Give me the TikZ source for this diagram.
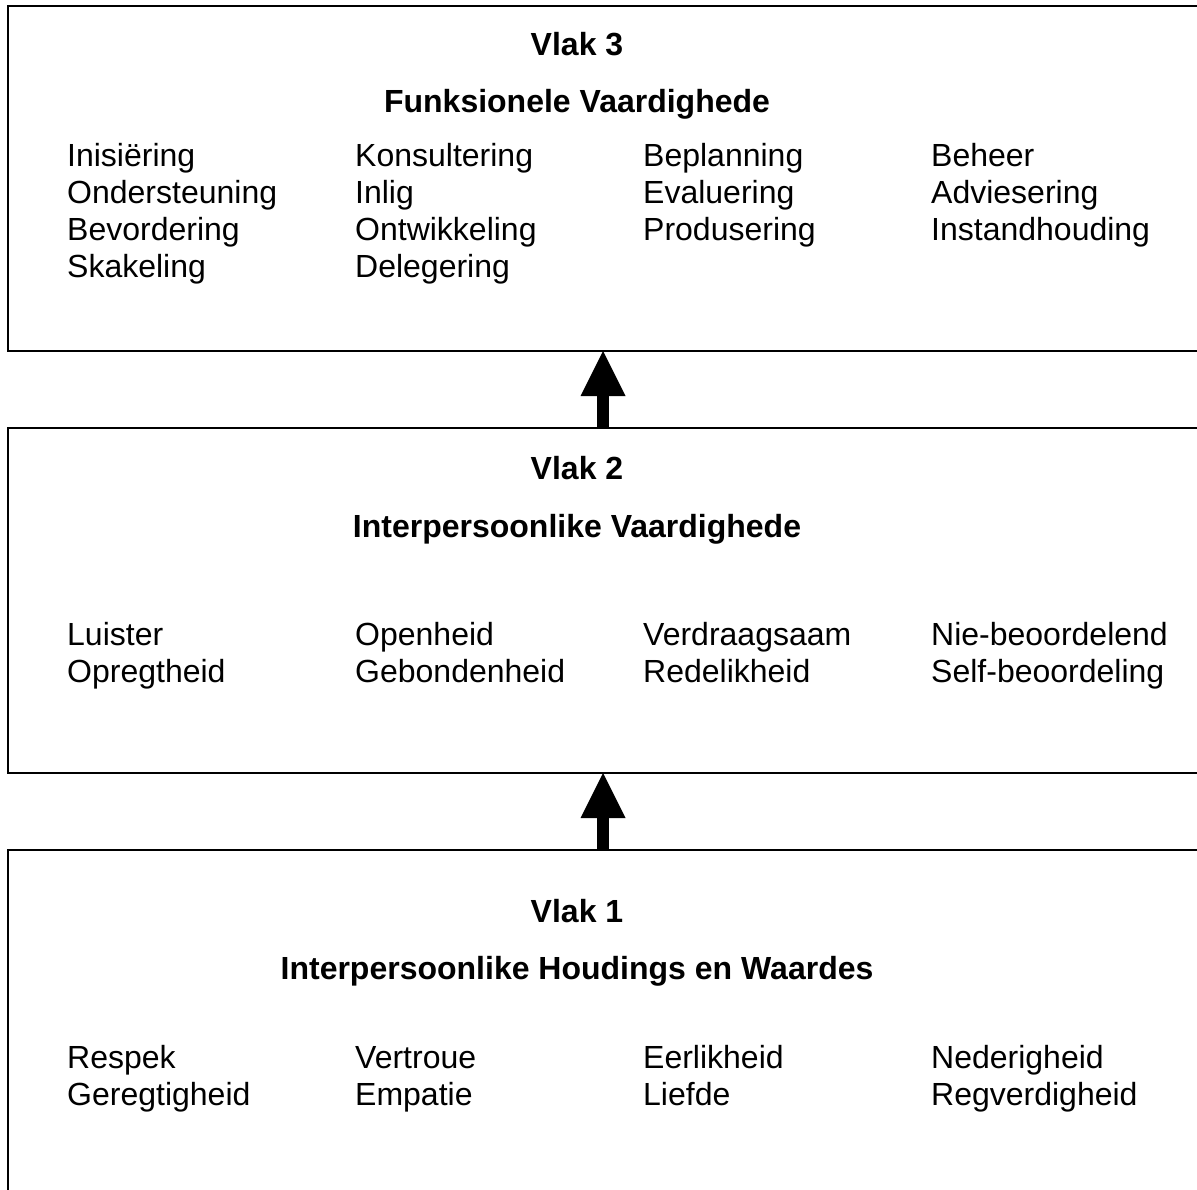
\documentclass[tikz,border=0pt]{standalone}
\usepackage{fontspec}
\setmainfont{Liberation Sans}
\usepackage{tikz}
\usetikzlibrary{arrows.meta}
\begin{document}
\begin{tikzpicture}[x=1pt, y=-1pt,
  vlakbox/.style={draw, line width=1.8pt, outer sep=0pt, inner sep=0pt, minimum width=1212pt, minimum height=345pt},
  kop/.style={anchor=base, inner sep=0pt, font=\fontsize{32pt}{37pt}\selectfont\bfseries},
  item/.style={anchor=base west, inner sep=0pt, font=\fontsize{32pt}{37pt}\selectfont},
  blokpyl/.style={line width=12pt, -{Triangle[width=45pt, length=45pt, line width=0pt]}},]
\useasboundingbox (0,0) rectangle (1197,1189);
\clip (0,0) rectangle (1197,1189);
\node[vlakbox] (vlak3) at (614, 178.5) {};
\node[vlakbox] (vlak2) at (614, 600.5) {};
\node[vlakbox] (vlak1) at (614, 1022.5) {};
\coordinate (mid) at (603, 0);
 \draw [blokpyl] (vlak2.north -| mid)--(vlak3.south -| mid);
 \draw [blokpyl] (vlak1.north -| mid)--(vlak2.south -| mid);
\node[kop] (v3) at (577, 55)  {Vlak 3};
\node[kop] (t3) at (577, 112)  {Funksionele Vaardighede};
\node[item] (a1) at (67, 166)  {Inisiëring};
\node[item] (a2) at (67, 203)  {Ondersteuning};
\node[item] (a3) at (67, 240)  {Bevordering};
\node[item] (a4) at (67, 277)  {Skakeling};
\node[item] (b1) at (355, 166)  {Konsultering};
\node[item] (b2) at (355, 203)  {Inlig};
\node[item] (b3) at (355, 240)  {Ontwikkeling};
\node[item] (b4) at (355, 277)  {Delegering};
\node[item] (c1) at (643, 166)  {Beplanning};
\node[item] (c2) at (643, 203)  {Evaluering};
\node[item] (c3) at (643, 240)  {Produsering};
\node[item] (d1) at (931, 166)  {Beheer};
\node[item] (d2) at (931, 203)  {Adviesering};
\node[item] (d3) at (931, 240)  {Instandhouding};
\node[kop] (v2) at (577, 479)  {Vlak 2};
\node[kop] (t2) at (577, 537)  {Interpersoonlike Vaardighede};
\node[item] (e1) at (67, 645)  {Luister};
\node[item] (e2) at (67, 682)  {Opregtheid};
\node[item] (f1) at (355, 645)  {Openheid};
\node[item] (f2) at (355, 682)  {Gebondenheid};
\node[item] (g1) at (643, 645)  {Verdraagsaam};
\node[item] (g2) at (643, 682)  {Redelikheid};
\node[item] (h1) at (931, 645)  {Nie-beoordelend};
\node[item] (h2) at (931, 682)  {Self-beoordeling};
\node[kop] (v1) at (577, 922)  {Vlak 1};
\node[kop] (t1) at (577, 979)  {Interpersoonlike Houdings en Waardes};
\node[item] (k1) at (67, 1068)  {Respek};
\node[item] (k2) at (67, 1105)  {Geregtigheid};
\node[item] (l1) at (355, 1068)  {Vertroue};
\node[item] (l2) at (355, 1105)  {Empatie};
\node[item] (m1) at (643, 1068)  {Eerlikheid};
\node[item] (m2) at (643, 1105)  {Liefde};
\node[item] (n1) at (931, 1068)  {Nederigheid};
\node[item] (n2) at (931, 1105)  {Regverdigheid};
\end{tikzpicture}
\end{document}
